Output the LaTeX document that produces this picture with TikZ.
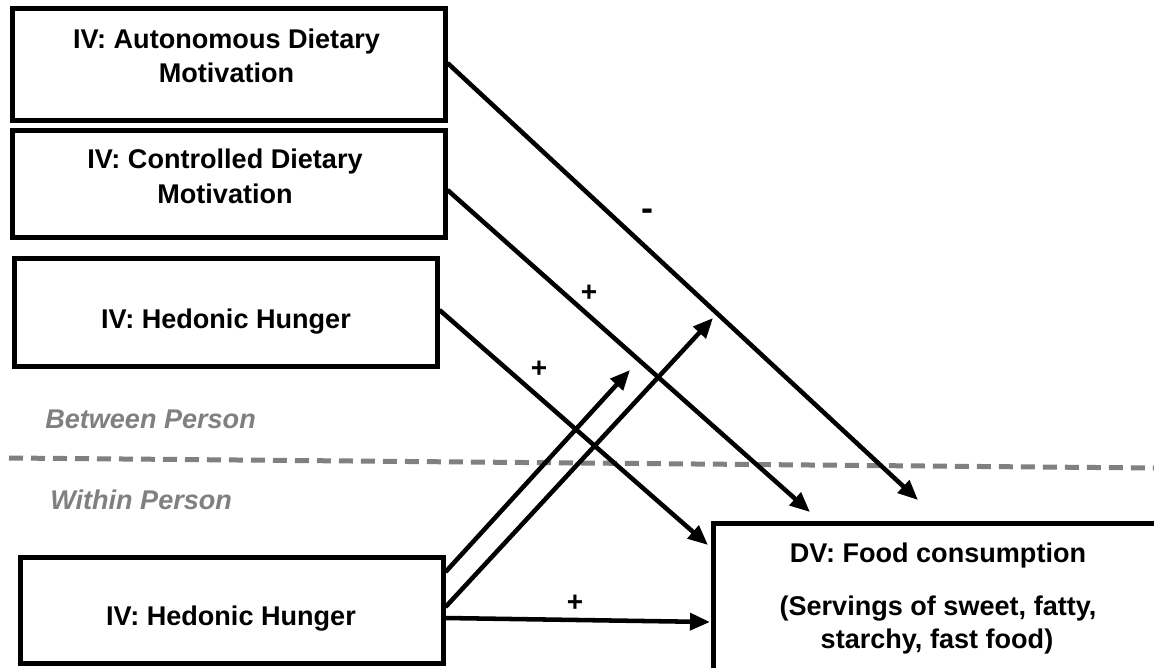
\documentclass[tikz,border=0pt]{standalone}
\usepackage{fontspec}
\setmainfont{Liberation Sans}
\usetikzlibrary{arrows.meta,calc}
\begin{document}
\begin{tikzpicture}[x=0.75pt,y=-0.75pt,
  box/.style={draw, line width=3.75pt, rectangle, inner sep=0pt},
  lbl/.style={font=\fontsize{20.3pt}{25pt}\selectfont\bfseries, inner sep=0pt, anchor=base},
  side/.style={font=\fontsize{20.3pt}{25pt}\selectfont\bfseries\itshape, text=gray, inner sep=0pt, anchor=base west},
  conn/.style={line width=3.4pt, -{Triangle[length=15pt,width=12.5pt]}},
  divider/.style={draw=gray, line width=3.75pt, dash pattern=on 10.5pt off 6pt},
  sign/.style={font=\fontsize{21pt}{25pt}\selectfont\bfseries, inner sep=0pt}]
\useasboundingbox (0,0) rectangle (1154,668);
\clip (0,0) rectangle (1154,668);

% boxes
\node[box, minimum width=324.75pt, minimum height=84pt] (a) at (228.5,64) {};
\node[box, minimum width=324.75pt, minimum height=80.25pt] (b) at (228.5,183.5) {};
\node[box, minimum width=317.25pt, minimum height=81pt] (c) at (225.5,312) {};
\node[box, minimum width=317.25pt, minimum height=79.5pt] (d) at (231.5,610) {};
\node[box, minimum width=336pt, minimum height=120pt] (dv) at (937,603) {};

% texts
\node[lbl] (ta1) at (226.5,48) {IV: Autonomous Dietary};
\node[lbl] (ta2) at (226.5,82) {Motivation};
\node[lbl] (tb1) at (225,168) {IV: Controlled Dietary};
\node[lbl] (tb2) at (225,203) {Motivation};
\node[lbl] (tc) at (226,328) {IV: Hedonic Hunger};
\node[lbl] (td) at (231,625) {IV: Hedonic Hunger};
\node[side] (bp) at (45,428) {Between Person};
\node[side] (wp) at (50,509) {Within Person};
\node[lbl] (dv1) at (938,562) {DV: Food consumption};
\node[lbl] (dv2) at (938,615) {(Servings of sweet, fatty,};
\node[lbl] (dv3) at (937,648) {starchy, fast food)};

% divider
\coordinate (dl) at (9,458);
\coordinate (dr) at (1154,468);
\draw[divider] (dl) -- (dr);

% arrow end points
\coordinate (e1) at (918,500);
\coordinate (e2) at (810,512);
\coordinate (e3) at (708,545);
\coordinate (e4) at (710,622);
\coordinate (m1) at (713,318);
\coordinate (m2) at (630,370);

% connectors
\draw[conn] ($(a.east)+(0,-1)$) -- (e1);
\draw[conn] ($(b.east)+(0,6.5)$) -- (e2);
\draw[conn] ($(c.east)+(0,-2)$) -- (e3);
\draw[conn] ($(d.east)+(0,-38)$) -- (m2);
\draw[conn] ($(d.east)+(0,-3)$) -- (m1);
\draw[conn] ($(d.east)+(0,8)$) -- (e4);

% signs
\node[sign] (s1) at (647,215) {\fontsize{27pt}{30pt}\selectfont -};
\node[sign] (s2) at (589,293) {+};
\node[sign] (s3) at (539,369) {+};
\node[sign] (s4) at (575,603) {+};
\end{tikzpicture}
\end{document}
